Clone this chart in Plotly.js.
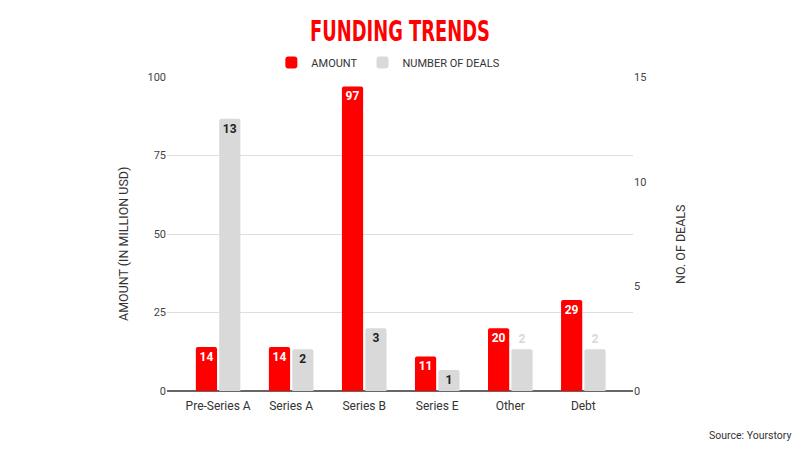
<!DOCTYPE html>
<html>
<head>
<meta charset="utf-8">
<script src="https://cdn.plot.ly/plotly-3.0.1.min.js"></script>
<style>html,body{margin:0;padding:0;background:#fff;}#chart{width:800px;height:450px;}</style>
</head>
<body>
<div id="chart"></div>
<script>
const categories = ["Pre-Series A", "Series A", "Series B", "Series E", "Other", "Debt"];
const amount = [14, 14, 97, 11, 20, 29];
const deals = [13, 2, 3, 1, 2, 2];
const leftTicks = [0, 25, 50, 75, 100];
const rightTicks = [0, 5, 10, 15];

const dealTextPos = ["inside", "inside", "inside", "inside", "outside", "outside"];
const dealTextColor = ["#222", "#222", "#222", "#222", "#d8d8d8", "#d8d8d8"];

const traces = [
  {
    type: "bar", name: "AMOUNT", x: categories, y: amount, yaxis: "y",
    marker: {color: "#ff0000", cornerradius: 2},
    width: 0.29, offset: -0.305,
    text: amount.map(String), textposition: "inside", insidetextanchor: "end",
    textangle: 0, constraintext: "none",
    textfont: {family: "Roboto", size: 12, color: "#ffffff", weight: "bold"},
    hoverinfo: "none"
  },
  {
    type: "bar", name: "NUMBER OF DEALS", x: categories, y: deals, yaxis: "y2",
    marker: {color: "#d9d9d9", cornerradius: 2},
    width: 0.29, offset: 0.015,
    text: deals.map(String), textposition: dealTextPos, insidetextanchor: "end",
    textangle: 0, constraintext: "none", cliponaxis: false,
    textfont: {family: "Roboto", size: 12, color: dealTextColor, weight: "bold"},
    outsidetextfont: {family: "Roboto", size: 12, color: dealTextColor, weight: "bold"},
    hoverinfo: "none"
  }
];

const layout = {
  width: 800, height: 450,
  paper_bgcolor: "#fff", plot_bgcolor: "#fff",
  margin: {l: 167, r: 167, t: 77, b: 59, pad: 0},
  font: {family: "Roboto", color: "#333"},
  title: {
    text: "FUNDING TRENDS",
    font: {family: "'DejaVu Sans Condensed', 'Liberation Sans Narrow', 'Roboto', sans-serif", size: 28, color: "#ff0000", weight: "bold"},
    x: 0.5, xanchor: "center", y: 0.93, yanchor: "middle"
  },
  showlegend: true,
  legend: {
    orientation: "h", x: 0.475, xanchor: "center", y: 1.0, yanchor: "bottom",
    font: {family: "Roboto", size: 11, color: "#333"},
    itemwidth: 30, traceorder: "normal"
  },
  barmode: "overlay",
  xaxis: {
    type: "category", range: [-0.7, 5.68],
    showgrid: false, zeroline: false, showline: false, ticks: "",
    ticklabelstandoff: 6,
    tickfont: {family: "Roboto", size: 12, color: "#333"}
  },
  yaxis: {
    range: [0, 100], tickvals: leftTicks,
    showgrid: true, gridcolor: "#dedede", gridwidth: 1,
    zeroline: true, zerolinecolor: "#666", zerolinewidth: 1.5,
    showline: false, ticks: "",
    tickfont: {family: "Roboto", size: 11, color: "#444"}
  },
  yaxis2: {
    range: [0, 15], tickvals: rightTicks, overlaying: "y", side: "right",
    showgrid: false, zeroline: false, showline: false, ticks: "",
    tickfont: {family: "Roboto", size: 11, color: "#444"}
  },
  annotations: [
    {text: "AMOUNT (IN MILLION USD)", xref: "paper", yref: "paper", x: (123 - 167) / 466, y: 1 - (244 - 77) / 314,
     xanchor: "center", yanchor: "middle", textangle: -90, showarrow: false,
     font: {family: "Roboto", size: 12.5, color: "#333"}},
    {text: "NO. OF DEALS", xref: "paper", yref: "paper", x: (680 - 167) / 466, y: 1 - (244 - 77) / 314,
     xanchor: "center", yanchor: "middle", textangle: -90, showarrow: false,
     font: {family: "Roboto", size: 12.5, color: "#333"}},
    {text: "Source: Yourstory", xref: "paper", yref: "paper", x: (793 - 167) / 466, y: -(435 - 391) / 314,
     xanchor: "right", yanchor: "middle", showarrow: false,
     font: {family: "Roboto", size: 10.5, color: "#333"}}
  ]
};

Plotly.newPlot("chart", traces, layout, {displayModeBar: false, staticPlot: true}).then(function (gd) {
  const t = gd.querySelector(".gtitle");
  if (t) {
    const cx = parseFloat(t.getAttribute("x")) || 400;
    t.setAttribute("transform", "translate(" + cx + ",0) scale(0.71,1) translate(" + (-cx) + ",0)");
  }
});
</script>
</body>
</html>
